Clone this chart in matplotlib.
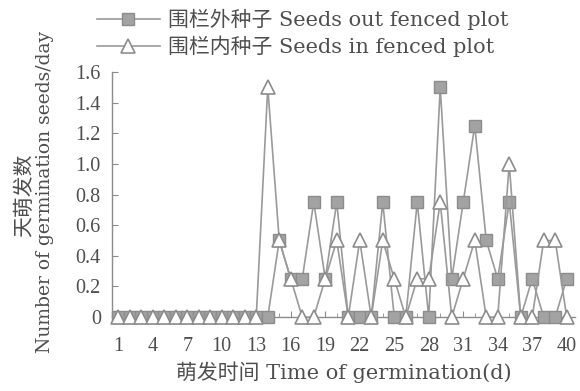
# Daily germination of seeds inside and outside the fenced plot

import matplotlib.pyplot as plt
import numpy as np

days = np.arange(1, 41)

# Seeds out fenced plot (squares)
out_fenced = [0, 0, 0, 0, 0, 0, 0, 0, 0, 0, 0, 0, 0, 0,
              0.5, 0.25, 0.25, 0.75, 0.25, 0.75, 0, 0, 0, 0.75, 0, 0, 0.75,
              0, 1.5, 0.25, 0.75, 1.25, 0.5, 0.25, 0.75, 0, 0.25, 0, 0, 0.25]

# Seeds in fenced plot (triangles)
in_fenced = [0, 0, 0, 0, 0, 0, 0, 0, 0, 0, 0, 0, 0, 1.5,
             0.5, 0.25, 0, 0, 0.25, 0.5, 0, 0.5, 0, 0.5, 0.25, 0, 0.25,
             0.25, 0.75, 0, 0.25, 0.5, 0, 0, 1.0, 0, 0, 0.5, 0.5, 0]

xticks = [1, 4, 7, 10, 13, 16, 19, 22, 25, 28, 31, 34, 37, 40]
yticks = [0, 0.2, 0.4, 0.6, 0.8, 1.0, 1.2, 1.4, 1.6]
ytick_labels = ["0", "0.2", "0.4", "0.6", "0.8", "1.0", "1.2", "1.4", "1.6"]

# serif for latin text, CJK fallback for the Chinese parts
label_fonts = ["DejaVu Serif", "Noto Sans CJK SC"]
tick_fonts = ["Liberation Serif", "Noto Sans CJK SC"]
plt.rcParams["font.family"] = label_fonts
text_col = "#4e4e4e"
line_col = "#9a9a9a"

fig = plt.figure(figsize=(5.8, 3.91), dpi=100)
ax = fig.add_axes([0.193, 0.189, 0.798, 0.627])

ax.plot(days, out_fenced, color=line_col, lw=1.2, marker="s", ms=8.5,
        mfc="#a3a3a3", mec="#8c8c8c", mew=1.0, clip_on=False, zorder=3,
        label="围栏外种子 Seeds out fenced plot")
ax.plot(days, in_fenced, color=line_col, lw=1.2, marker="^", ms=9.5,
        mfc="white", mec="#8c8c8c", mew=1.2, clip_on=False, zorder=4,
        label="围栏内种子 Seeds in fenced plot")

ax.set_xlim(0.45, 40.7)
ax.set_ylim(0, 1.6)
ax.set_xticks(xticks)
ax.set_xticks(days, minor=True)
ax.set_yticks(yticks)
ax.set_yticklabels(ytick_labels)

for s in ["top", "right"]:
    ax.spines[s].set_visible(False)
for s in ["left", "bottom"]:
    ax.spines[s].set_color("#8c8c8c")
    ax.spines[s].set_linewidth(1.0)

ax.tick_params(axis="both", direction="in", colors="#8c8c8c",
               labelcolor=text_col, labelsize=14.5, length=4)
ax.tick_params(axis="x", pad=14)
ax.tick_params(axis="y", pad=8)
ax.tick_params(axis="x", which="minor", direction="in", length=3,
               colors="#8c8c8c")
for lab in ax.get_xticklabels() + ax.get_yticklabels():
    lab.set_family(tick_fonts)

ax.set_xlabel("萌发时间 Time of germination(d)", fontsize=15,
              color=text_col, labelpad=4)
fig.text(0.042, 0.50, "天萌发数", rotation=90, fontsize=15, color=text_col,
         ha="center", va="center")
fig.text(0.078, 0.51, "Number of germination seeds/day", rotation=90,
         fontsize=13.5, color=text_col, ha="center", va="center")

fig.legend(loc="upper left", bbox_to_anchor=(0.135, 1.025), frameon=False,
           prop={"family": label_fonts, "size": 15}, handlelength=3.0,
           labelspacing=0.25, handletextpad=0.4, labelcolor=text_col)

fig.savefig("out.png", dpi=100)
